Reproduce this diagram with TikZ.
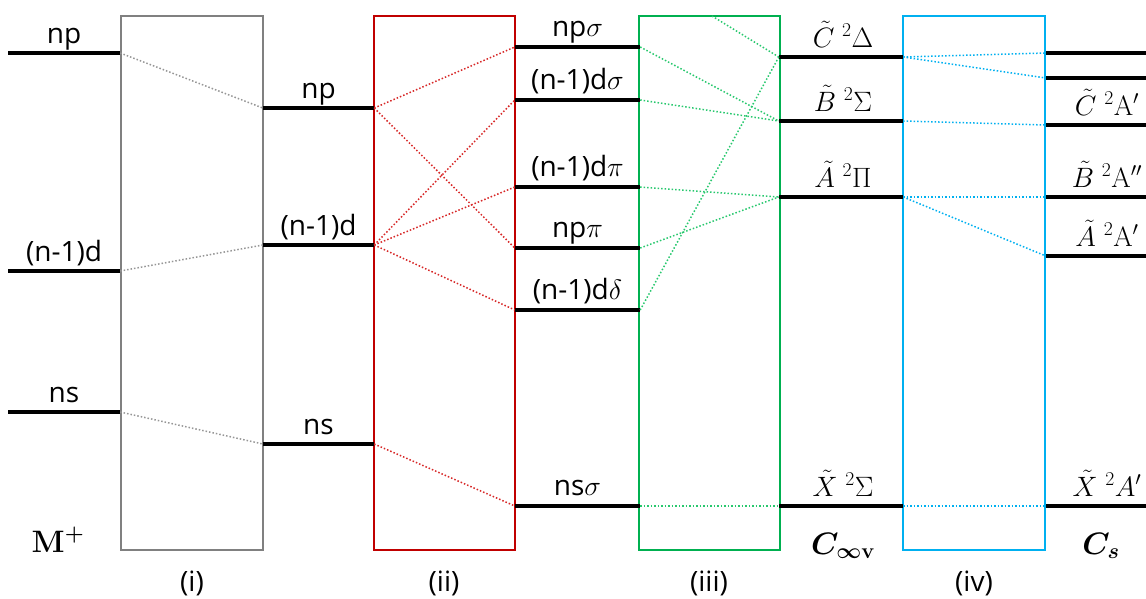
\RequirePackage{fix-cm}
\documentclass[tikz,border=0pt]{standalone}
\usepackage{amsmath}
\usepackage{bm}
\usepackage[no-math]{fontspec}
\setmainfont{Open Sans}
\definecolor{cgray}{RGB}{128,128,128}
\definecolor{cgrayl}{RGB}{150,150,150}
\definecolor{cred}{RGB}{192,0,0}
\definecolor{credl}{RGB}{215,40,40}
\definecolor{cgreen}{RGB}{0,176,80}
\definecolor{cgreenl}{RGB}{40,200,110}
\definecolor{cblue}{RGB}{0,176,240}
\begin{document}
\begin{tikzpicture}[x=1pt,y=-1pt,
  lvl/.style={fill=black,draw=none,inner sep=0pt,minimum height=4pt},
  lab/.style={font=\fontsize{28}{32}\selectfont,anchor=base,inner sep=0pt},
  mlab/.style={font=\fontsize{28}{32}\selectfont,anchor=base,inner sep=0pt},
  biglab/.style={font=\fontsize{31}{35}\selectfont,anchor=base,inner sep=0pt},
  boxst/.style={line width=2.6pt},
  conn/.style={dotted,line width=1.5pt}]
\useasboundingbox (0,0) rectangle (1146,598);
% boxes
\draw[boxst,cgray] (121,16) rectangle (263,550);
\draw[boxst,cred] (374,16) rectangle (515,550);
\draw[boxst,cgreen] (639,16) rectangle (780,550);
\draw[boxst,cblue] (903,16) rectangle (1045,550);
% column 0
\node[lvl,minimum width=112pt] (a1) at (64,53) {};
\node[lvl,minimum width=112pt] (a2) at (64,271) {};
\node[lvl,minimum width=112pt] (a3) at (64,412) {};
\node[lab] (ta1) at (64,43) {np};
\node[lab] (ta2) at (64,261) {(n-1)d};
\node[lab] (ta3) at (64,402) {ns};
% column 1
\node[lvl,minimum width=111pt] (b1) at (318.5,108) {};
\node[lvl,minimum width=111pt] (b2) at (318.5,245) {};
\node[lvl,minimum width=111pt] (b3) at (318.5,444) {};
\node[lab] (tb1) at (318.5,98) {np};
\node[lab] (tb2) at (318.5,235) {(n-1)d};
\node[lab] (tb3) at (318.5,434) {ns};
% column 2
\node[lvl,minimum width=125pt] (c1) at (577.5,47) {};
\node[lvl,minimum width=125pt] (c2) at (577.5,100) {};
\node[lvl,minimum width=125pt] (c3) at (577.5,187) {};
\node[lvl,minimum width=125pt] (c4) at (577.5,248) {};
\node[lvl,minimum width=125pt] (c5) at (577.5,310) {};
\node[lvl,minimum width=125pt] (c6) at (577.5,506) {};
\node[lab] (tc1) at (577.5,36) {np$\sigma$};
\node[lab] (tc2) at (577.5,89) {(n-1)d$\sigma$};
\node[lab] (tc3) at (577.5,176) {(n-1)d$\pi$};
\node[lab] (tc4) at (577.5,237) {np$\pi$};
\node[lab] (tc5) at (577.5,299) {(n-1)d$\delta$};
\node[lab] (tc6) at (577.5,495) {ns$\sigma$};
% column 3
\node[lvl,minimum width=124pt] (d1) at (841,57) {};
\node[lvl,minimum width=124pt] (d2) at (841,121) {};
\node[lvl,minimum width=124pt] (d3) at (841,197) {};
\node[lvl,minimum width=124pt] (d4) at (841,506) {};
\node[mlab] (td1) at (843,47) {$\tilde{C}\;{}^2\Delta$};
\node[mlab] (td2) at (843,111) {$\tilde{B}\;{}^2\Sigma$};
\node[mlab] (td3) at (843,187) {$\tilde{A}\;{}^2\Pi$};
\node[mlab] (td4) at (843,496) {$\tilde{X}\;{}^2\Sigma$};
% column 4
\node[lvl,minimum width=100pt] (e1) at (1096,53) {};
\node[lvl,minimum width=100pt] (e2) at (1096,78) {};
\node[lvl,minimum width=100pt] (e3) at (1096,125) {};
\node[lvl,minimum width=100pt] (e4) at (1096,197) {};
\node[lvl,minimum width=100pt] (e5) at (1096,256) {};
\node[lvl,minimum width=100pt] (e6) at (1096,506) {};
\node[mlab] (te3) at (1107,115) {$\tilde{C}\;{}^2\mathrm{A}'$};
\node[mlab] (te4) at (1107,187) {$\tilde{B}\;{}^2\mathrm{A}''$};
\node[mlab] (te5) at (1107,246) {$\tilde{A}\;{}^2\mathrm{A}'$};
\node[mlab] (te6) at (1107,496) {$\tilde{X}\;{}^2A'$};
% bottom labels
\node[biglab] (mp) at (58,552) {$\mathbf{M}^{\boldsymbol{+}}$};
\node[biglab] (cinf) at (843,554) {$\bm{C}_{\bm{\infty}\mathbf{v}}$};
\node[biglab] (cs) at (1101,554) {$\bm{C}_{\bm{s}}$};
\node[lab] (ri) at (192,591) {(i)};
\node[lab] (rii) at (444,591) {(ii)};
\node[lab] (riii) at (709,591) {(iii)};
\node[lab] (riv) at (974,591) {(iv)};
% connectors gray
\draw[conn,cgrayl] (a1.east) -- (b1.west);
\draw[conn,cgrayl] (a2.east) -- (b2.west);
\draw[conn,cgrayl] (a3.east) -- (b3.west);
% connectors red
\draw[conn,credl] (b1.east) -- (c1.west);
\draw[conn,credl] (b1.east) -- (c4.west);
\draw[conn,credl] (b2.east) -- (c2.west);
\draw[conn,credl] (b2.east) -- (c3.west);
\draw[conn,credl] (b2.east) -- (c5.west);
\draw[conn,credl] (b3.east) -- (c6.west);
% connectors green
\coordinate (gtop) at (712,16);
\draw[conn,cgreenl] (gtop) -- (d1.west);
\draw[conn,cgreenl] (c5.east) -- (d1.west);
\draw[conn,cgreenl] (c1.east) -- (d2.west);
\draw[conn,cgreenl] (c2.east) -- (d2.west);
\draw[conn,cgreenl] (c3.east) -- (d3.west);
\draw[conn,cgreenl] (c4.east) -- (d3.west);
\draw[conn,cgreenl] (c6.east) -- (d4.west);
% connectors blue
\draw[conn,cblue] (d1.east) -- (e1.west);
\draw[conn,cblue] (d1.east) -- (e2.west);
\draw[conn,cblue] (d2.east) -- (e3.west);
\draw[conn,cblue] (d3.east) -- (e4.west);
\draw[conn,cblue] (d3.east) -- (e5.west);
\draw[conn,cblue] (d4.east) -- (e6.west);
\end{tikzpicture}
\end{document}
